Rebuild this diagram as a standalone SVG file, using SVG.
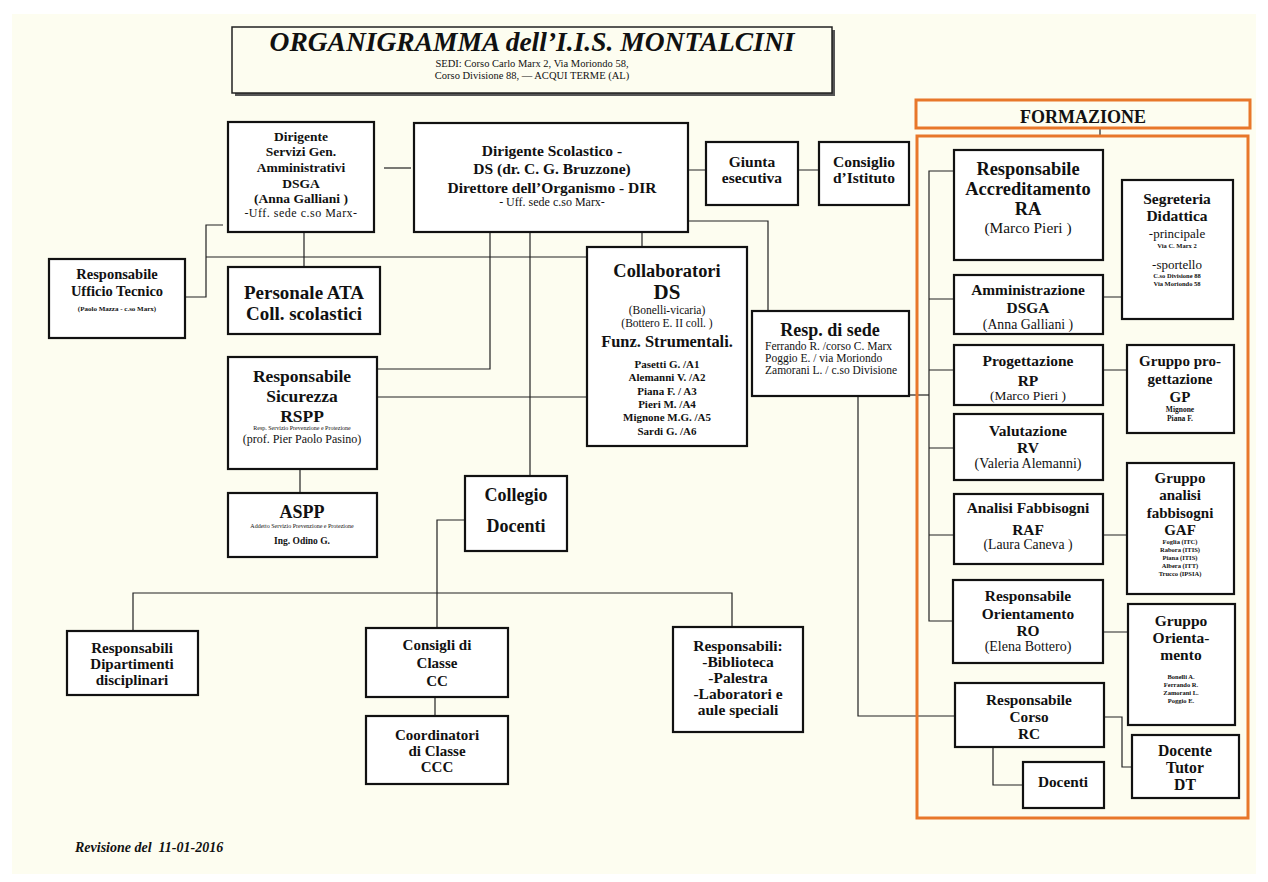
<svg xmlns="http://www.w3.org/2000/svg" width="1268" height="882" viewBox="0 0 1268 882">
<style>
text{font-family:"Liberation Serif","DejaVu Serif",serif;font-weight:bold;fill:#111;text-anchor:middle}
.b{fill:#fff;stroke:#111;stroke-width:2.2}
.c{fill:none;stroke:#222;stroke-width:1.2}
.o{fill:none;stroke:#e8772a;stroke-width:3}
.n{font-weight:normal}
.l{text-anchor:start}
</style>
<rect x="0" y="0" width="1268" height="882" fill="#fff"/>
<rect x="12" y="14" width="1244" height="860" fill="#fdfdf0"/>

<g id="title">
<rect x="235" y="30" width="600" height="66" fill="#555"/>
<rect x="232" y="27" width="600" height="66" fill="#fdfdf0" stroke="#222" stroke-width="1.5"/>
<text x="532" y="51" font-size="27.5" font-style="italic">ORGANIGRAMMA dell’I.I.S. MONTALCINI</text>
<text x="532" y="67" font-size="10.5" class="n">SEDI:  Corso Carlo Marx 2,  Via Moriondo 58,</text>
<text x="532" y="79" font-size="10.5" class="n">Corso Divisione 88,  — ACQUI TERME (AL)</text>
</g>

<g id="connectors">
<path class="c" d="M384 168H411"/>
<path class="c" d="M688 170H705M798 170H819"/>
<path class="c" d="M185 297H206V225H223"/>
<path class="c" d="M206 257H590"/>
<path class="c" d="M304 232V267"/>
<path class="c" d="M688 221H768V311"/>
<path class="c" d="M642 232V247"/>
<path class="c" d="M490 232V369H377"/>
<path class="c" d="M377 397H587"/>
<path class="c" d="M530 232V476"/>
<path class="c" d="M300 469V493"/>
<path class="c" d="M465 520H437V628"/>
<path class="c" d="M133 631V593H732V627"/>
<path class="c" d="M435 697V716"/>
<path class="c" d="M909 395H929"/>
<path class="c" d="M858 396V716H955"/>
<path class="c" d="M953 171H929V621H953"/>
<path class="c" d="M929 299H954M929 370H954M929 448H954M929 535H954"/>
<path class="c" d="M1103 297H1122M1103 370H1127M1103 535H1127M1103 632H1128"/>
<path class="c" d="M993 747V785H1023"/>
<path class="c" d="M1104 717H1122V767H1132"/>
<path class="c" d="M1100 128V136"/>
</g>

<g id="dsga">
<rect class="b" x="228" y="122" width="146" height="110"/>
<text x="301" y="141" font-size="13.5">Dirigente</text>
<text x="301" y="156" font-size="13.5">Servizi Gen.</text>
<text x="301" y="172" font-size="13.5">Amministrativi</text>
<text x="301" y="188" font-size="13.5">DSGA</text>
<text x="301" y="203" font-size="13.5">(Anna Galliani )</text>
<text x="301" y="217" font-size="12" class="n" letter-spacing="0.5">-Uff. sede c.so Marx-</text>
</g>

<g id="ds">
<rect class="b" x="414" y="123" width="274" height="109"/>
<text x="552" y="156" font-size="15.5">Dirigente Scolastico -</text>
<text x="552" y="174" font-size="15.5">DS (dr. C. G. Bruzzone)</text>
<text x="552" y="193" font-size="15.5">Direttore dell’Organismo - DIR</text>
<text x="552" y="206" font-size="12" class="n">- Uff. sede c.so Marx-</text>
</g>

<g id="giunta">
<rect class="b" x="706" y="142" width="92" height="63"/>
<text x="752" y="167" font-size="15.5">Giunta</text>
<text x="752" y="183" font-size="15.5">esecutiva</text>
</g>

<g id="consiglio">
<rect class="b" x="819" y="142" width="90" height="63"/>
<text x="864" y="167" font-size="15.5">Consiglio</text>
<text x="864" y="183" font-size="15.5">d’Istituto</text>
</g>

<g id="uff-tecnico">
<rect class="b" x="49" y="259" width="136" height="79"/>
<text x="117" y="279" font-size="14.5">Responsabile</text>
<text x="117" y="296" font-size="14.5">Ufficio Tecnico</text>
<text x="117" y="311" font-size="7">(Paolo Mazza  - c.so Marx)</text>
</g>

<g id="ata">
<rect class="b" x="228" y="267" width="152" height="67"/>
<text x="304" y="299" font-size="19">Personale ATA</text>
<text x="304" y="320" font-size="19">Coll. scolastici</text>
</g>

<g id="collaboratori">
<rect class="b" x="587" y="247" width="160" height="199"/>
<text x="667" y="277" font-size="18.4">Collaboratori</text>
<text x="667" y="299" font-size="21">DS</text>
<text x="667" y="314" font-size="11.5" class="n">(Bonelli-vicaria)</text>
<text x="667" y="327" font-size="11.5" class="n">(Bottero E. II coll. )</text>
<text x="667" y="347" font-size="16.4">Funz. Strumentali.</text>
<text x="667" y="368" font-size="11">Pasetti G.  /A1</text>
<text x="667" y="381" font-size="11">Alemanni V. /A2</text>
<text x="667" y="395" font-size="11">Piana F. / A3</text>
<text x="667" y="408" font-size="11">Pieri M. /A4</text>
<text x="667" y="421" font-size="11">Mignone  M.G. /A5</text>
<text x="667" y="435" font-size="11">Sardi G. /A6</text>
</g>

<g id="resp-sede">
<rect class="b" x="752" y="311" width="157" height="85"/>
<text x="830" y="336" font-size="18">Resp. di sede</text>
<text x="765" y="350" font-size="11.5" class="l n">Ferrando R. /corso C. Marx</text>
<text x="765" y="362" font-size="11.5" class="l n">Poggio E. / via Moriondo</text>
<text x="765" y="374" font-size="11.5" class="l n">Zamorani L. / c.so Divisione</text>
</g>

<g id="rspp">
<rect class="b" x="228" y="357" width="149" height="112"/>
<text x="302" y="382" font-size="17.5">Responsabile</text>
<text x="302" y="402" font-size="17.5">Sicurezza</text>
<text x="302" y="422" font-size="17.5">RSPP</text>
<text x="302" y="430" font-size="6" class="n">Resp. Servizio Prevenzione e Protezione</text>
<text x="302" y="443" font-size="12" class="n">(prof. Pier Paolo Pasino)</text>
</g>

<g id="aspp">
<rect class="b" x="228" y="493" width="149" height="64"/>
<text x="302" y="518" font-size="18">ASPP</text>
<text x="302" y="528" font-size="6" class="n">Addetto  Servizio Prevenzione e Protezione</text>
<text x="302" y="544" font-size="9.5">Ing. Odino G.</text>
</g>

<g id="collegio">
<rect class="b" x="465" y="476" width="102" height="75"/>
<text x="516" y="501" font-size="18">Collegio</text>
<text x="516" y="532" font-size="18">Docenti</text>
</g>

<g id="dipartimenti">
<rect class="b" x="67" y="631" width="131" height="64"/>
<text x="132" y="653" font-size="15">Responsabili</text>
<text x="132" y="669" font-size="15">Dipartimenti</text>
<text x="132" y="685" font-size="15">disciplinari</text>
</g>

<g id="consigli-classe">
<rect class="b" x="366" y="628" width="142" height="69"/>
<text x="437" y="650" font-size="15">Consigli di</text>
<text x="437" y="668" font-size="15">Classe</text>
<text x="437" y="686" font-size="15">CC</text>
</g>

<g id="coordinatori">
<rect class="b" x="366" y="716" width="142" height="68"/>
<text x="437" y="740" font-size="15">Coordinatori</text>
<text x="437" y="756" font-size="15">di Classe</text>
<text x="437" y="772" font-size="15">CCC</text>
</g>

<g id="responsabili">
<rect class="b" x="673" y="627" width="130" height="105"/>
<text x="738" y="651" font-size="15.5">Responsabili:</text>
<text x="738" y="667" font-size="15.5">-Biblioteca</text>
<text x="738" y="683" font-size="15.5">-Palestra</text>
<text x="738" y="699" font-size="15.5">-Laboratori e</text>
<text x="738" y="715" font-size="15.5">aule speciali</text>
</g>

<g id="formazione">
<rect class="o" x="916" y="100" width="334" height="28"/>
<text x="1083" y="123" font-size="18">FORMAZIONE</text>
<rect class="o" x="917" y="136" width="331" height="682"/>
</g>

<g id="ra">
<rect class="b" x="954" y="150" width="149" height="110"/>
<text x="1028" y="175" font-size="18.4">Responsabile</text>
<text x="1028" y="195" font-size="18.4">Accreditamento</text>
<text x="1028" y="215" font-size="18.4">RA</text>
<text x="1028" y="233" font-size="15.4" class="n">(Marco Pieri )</text>
</g>

<g id="segreteria">
<rect class="b" x="1122" y="180" width="111" height="139"/>
<text x="1177" y="204" font-size="15.5">Segreteria</text>
<text x="1177" y="221" font-size="15.5">Didattica</text>
<text x="1177" y="238" font-size="13" class="n">-principale</text>
<text x="1177" y="248" font-size="6.5">Via  C. Marx 2</text>
<text x="1177" y="269" font-size="13" class="n">-sportello</text>
<text x="1177" y="278" font-size="6.5">C.so Divisione 88</text>
<text x="1177" y="286" font-size="6.5">Via Moriondo 58</text>
</g>

<g id="amministrazione">
<rect class="b" x="954" y="275" width="149" height="59"/>
<text x="1028" y="295" font-size="15.4">Amministrazione</text>
<text x="1028" y="313" font-size="15.4">DSGA</text>
<text x="1028" y="329" font-size="13.8" class="n">(Anna Galliani )</text>
</g>

<g id="rp">
<rect class="b" x="954" y="345" width="149" height="60"/>
<text x="1028" y="366" font-size="15.5">Progettazione</text>
<text x="1028" y="386" font-size="15.5">RP</text>
<text x="1028" y="400" font-size="13.4" class="n">(Marco Pieri )</text>
</g>

<g id="gp">
<rect class="b" x="1127" y="345" width="107" height="88"/>
<text x="1180" y="366" font-size="15">Gruppo pro-</text>
<text x="1180" y="384" font-size="15">gettazione</text>
<text x="1180" y="402" font-size="15">GP</text>
<text x="1180" y="412" font-size="7.5">Mignone</text>
<text x="1180" y="421" font-size="7.5">Piana F.</text>
</g>

<g id="rv">
<rect class="b" x="954" y="414" width="149" height="66"/>
<text x="1028" y="436" font-size="15.5">Valutazione</text>
<text x="1028" y="453" font-size="15.5">RV</text>
<text x="1028" y="468" font-size="14" class="n">(Valeria Alemanni)</text>
</g>

<g id="raf">
<rect class="b" x="954" y="494" width="149" height="70"/>
<text x="1028" y="513" font-size="15.4">Analisi Fabbisogni</text>
<text x="1028" y="535" font-size="15.4">RAF</text>
<text x="1028" y="549" font-size="13.7" class="n">(Laura Caneva )</text>
</g>

<g id="gaf">
<rect class="b" x="1127" y="463" width="107" height="131"/>
<text x="1180" y="483" font-size="15">Gruppo</text>
<text x="1180" y="500" font-size="15">analisi</text>
<text x="1180" y="518" font-size="15">fabbisogni</text>
<text x="1180" y="535" font-size="15">GAF</text>
<text x="1180" y="544" font-size="6.5">Foglia (ITC)</text>
<text x="1180" y="552" font-size="6.5">Rabora (ITIS)</text>
<text x="1180" y="560" font-size="6.5">Piana (ITIS)</text>
<text x="1180" y="568" font-size="6.5">Albera (ITT)</text>
<text x="1180" y="576" font-size="6.5">Trucco (IPSIA)</text>
</g>

<g id="ro">
<rect class="b" x="953" y="580" width="150" height="83"/>
<text x="1028" y="601" font-size="15.4">Responsabile</text>
<text x="1028" y="619" font-size="15.4">Orientamento</text>
<text x="1028" y="636" font-size="15.4">RO</text>
<text x="1028" y="651" font-size="14" class="n">(Elena Bottero)</text>
</g>

<g id="go">
<rect class="b" x="1128" y="604" width="107" height="121"/>
<text x="1181" y="626" font-size="15.5">Gruppo</text>
<text x="1181" y="643" font-size="15.5">Orienta-</text>
<text x="1181" y="660" font-size="15.5">mento</text>
<text x="1181" y="679" font-size="6.5">Bonelli A.</text>
<text x="1181" y="687" font-size="6.5">Ferrando R.</text>
<text x="1181" y="695" font-size="6.5">Zamorani L.</text>
<text x="1181" y="703" font-size="6.5">Poggio E.</text>
</g>

<g id="rc">
<rect class="b" x="955" y="683" width="149" height="64"/>
<text x="1029" y="705" font-size="15.3">Responsabile</text>
<text x="1029" y="722" font-size="15.3">Corso</text>
<text x="1029" y="739" font-size="15.3">RC</text>
</g>

<g id="docenti">
<rect class="b" x="1023" y="762" width="81" height="46"/>
<text x="1063" y="787" font-size="15.3">Docenti</text>
</g>

<g id="dt">
<rect class="b" x="1132" y="735" width="107" height="63"/>
<text x="1185" y="756" font-size="15.7">Docente</text>
<text x="1185" y="773" font-size="15.7">Tutor</text>
<text x="1185" y="790" font-size="15.7">DT</text>
</g>

<text x="75" y="852" font-size="14" font-style="italic" class="l" xml:space="preserve">Revisione del  11-01-2016</text>
</svg>
